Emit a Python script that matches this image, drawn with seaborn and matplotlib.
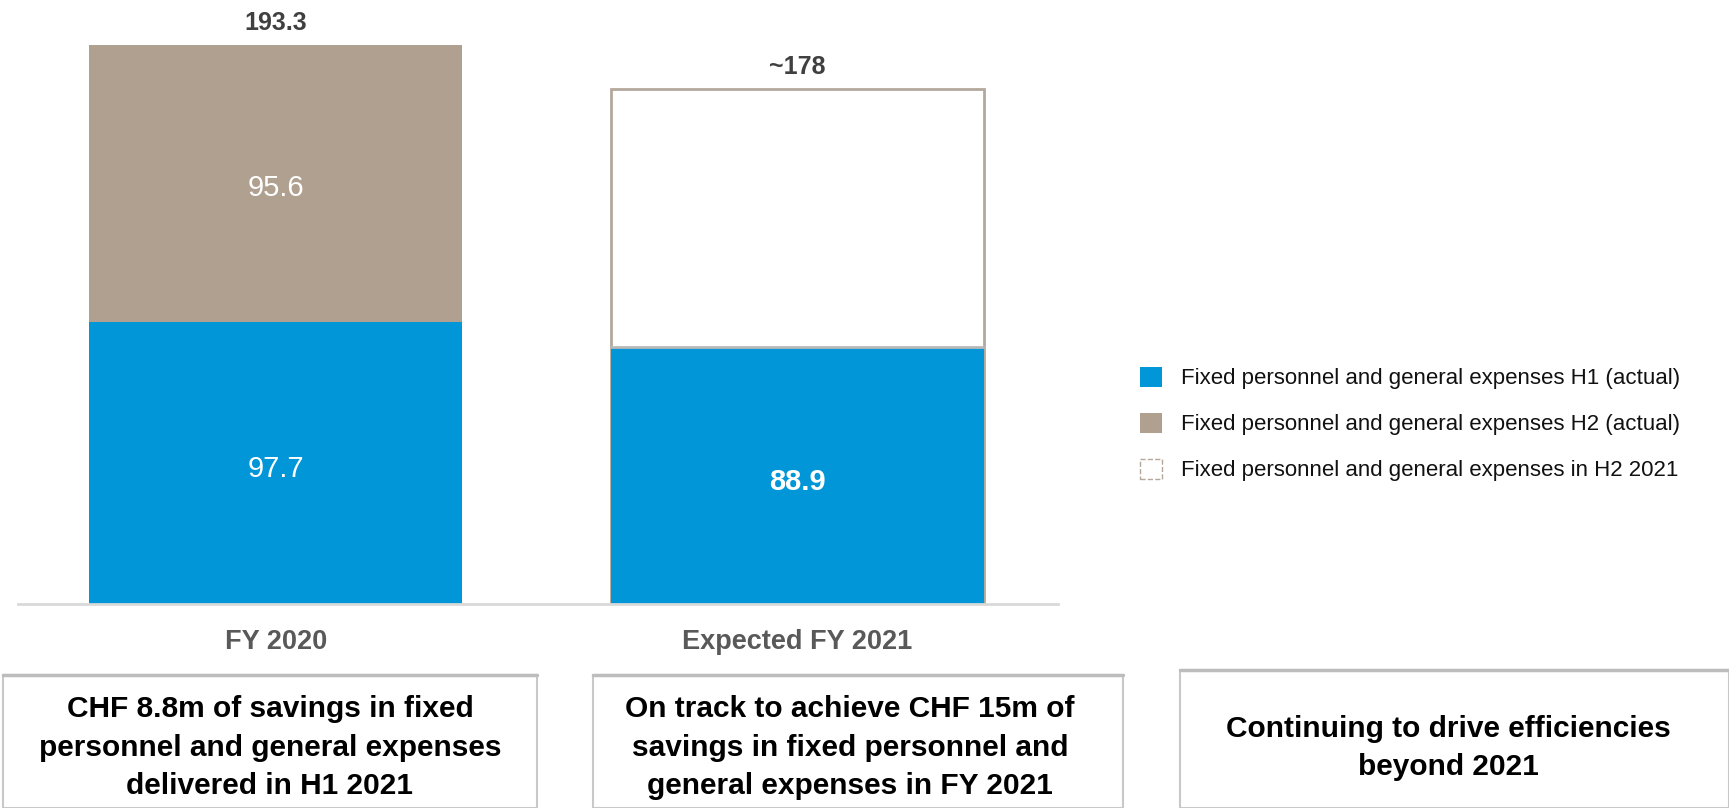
import matplotlib
matplotlib.use("Agg")
import matplotlib.pyplot as plt
from matplotlib.patches import Patch, Rectangle
import seaborn as sns
import pandas as pd

categories = ["FY 2020", "Expected FY 2021"]
h1_values = [97.7, 88.9]
h2_values = [95.6, 89.1]
total_labels = ["193.3", "~178"]
h1_labels = ["97.7", "88.9"]
h2_labels = ["95.6", ""]
legend_labels = [
    "Fixed personnel and general expenses H1 (actual)",
    "Fixed personnel and general expenses H2 (actual)",
    "Fixed personnel and general expenses in H2 2021",
]
box_texts = [
    "CHF 8.8m of savings in fixed\npersonnel and general expenses\ndelivered in H1 2021",
    "On track to achieve CHF 15m of\nsavings in fixed personnel and\ngeneral expenses in FY 2021",
    "Continuing to drive efficiencies\nbeyond 2021",
]

BLUE = "#0096D8"
TAUPE = "#B0A090"
EDGE = "#B4A89C"

sns.set_theme(style="white")
plt.rcParams["font.family"] = ["Liberation Sans", "DejaVu Sans"]

W, H = 1729, 808
fig = plt.figure(figsize=(W / 100, H / 100), dpi=100)
ax = fig.add_axes([18 / W, (H - 604) / H, 1040 / W, 604 / H])

totals = [a + b for a, b in zip(h1_values, h2_values)]
df_tot = pd.DataFrame({"cat": categories, "val": totals})
df_h1 = pd.DataFrame({"cat": categories, "val": h1_values})

sns.barplot(data=df_tot, x="cat", y="val", hue="cat",
            palette=[TAUPE, "white"], width=0.715, ax=ax, legend=False,
            saturation=1, linewidth=0)
tot_bars = list(ax.patches)
tot_bars[1].set_edgecolor(EDGE)
tot_bars[1].set_linewidth(2)
sns.barplot(data=df_h1, x="cat", y="val", color=BLUE, width=0.715, ax=ax,
            saturation=1, linewidth=0)
h1_bars = ax.patches[len(tot_bars):]

ax.set_xlim(-0.494, 1.5)
ax.set_ylim(0, 208.9)

# boundary line between H1 and H2 on the expected bar
b = h1_bars[1]
ax.plot([b.get_x(), b.get_x() + b.get_width()], [h1_values[1], h1_values[1]],
        color="#B8B8B8", lw=2, zorder=5)

for i, bar in enumerate(h1_bars):
    cx = bar.get_x() + bar.get_width() / 2
    ax.text(cx, h1_values[i] / 2 - 2.2, h1_labels[i], ha="center", va="center",
            color="white", fontsize=21,
            fontweight="bold" if i == 1 else "normal")
    if h2_labels[i]:
        ax.text(cx, h1_values[i] + h2_values[i] / 2 - 1.5, h2_labels[i],
                ha="center", va="center", color="white", fontsize=21)
    ax.text(cx, totals[i] + 7.8, total_labels[i], ha="center", va="center",
            color="#404040", fontsize=18, fontweight="bold")

for s in ["top", "right", "left"]:
    ax.spines[s].set_visible(False)
ax.spines["bottom"].set_color("#D9D9D9")
ax.spines["bottom"].set_linewidth(2)
ax.set_yticks([])
ax.set_xlabel("")
ax.set_ylabel("")
ax.tick_params(axis="x", length=0, pad=18)
for lbl in ax.get_xticklabels():
    lbl.set_fontsize(19.5)
    lbl.set_fontweight("bold")
    lbl.set_color("#595959")

handles = [
    Patch(facecolor=BLUE, edgecolor="none"),
    Patch(facecolor=TAUPE, edgecolor="none"),
    Patch(facecolor="white", edgecolor=EDGE, linestyle="--", linewidth=1),
]
fig.legend(handles, legend_labels, loc="center left",
           bbox_to_anchor=(1120 / W, 1 - 424 / H), frameon=False,
           fontsize=16, handlelength=1.0, handleheight=1.0,
           handletextpad=0.85, labelspacing=1.05, labelcolor="#111111")

# bottom boxes
boxes = [(3, 675, 534), (593, 675, 530), (1180, 670, 549)]
text_centers = [270, 850, 1448]
text_offsets = [-6, -6, -9]
for (x0, y0, w), tc, off, txt in zip(boxes, text_centers, text_offsets, box_texts):
    rect = Rectangle((x0 / W, 0), w / W, (H - y0) / H, transform=fig.transFigure,
                     facecolor="white", edgecolor="#C8C8C8", linewidth=1.5,
                     clip_on=False)
    fig.add_artist(rect)
    fig.add_artist(plt.Line2D([x0 / W, (x0 + w) / W], [(H - y0) / H] * 2,
                              transform=fig.transFigure, color="#BDBDBD", lw=2.5))
    cy = (H - (y0 + 808) / 2 + off) / H
    fig.text(tc / W, cy, txt, ha="center", va="center", fontsize=21.5,
             fontweight="bold", color="black", linespacing=1.47)

fig.savefig("out.png", dpi=100, facecolor="white")
